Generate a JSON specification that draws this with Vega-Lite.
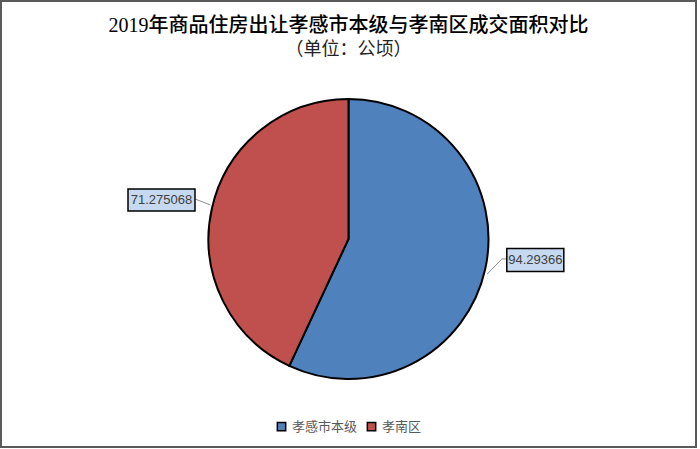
{
  "$schema": "https://vega.github.io/schema/vega-lite/v6.json",
  "autosize": "none",
  "width": 695,
  "height": 446,
  "padding": {"left": 1, "top": 1, "right": 4, "bottom": 2},
  "background": "white",
  "title": {
    "text": "2019年商品住房出让孝感市本级与孝南区成交面积对比",
    "subtitle": "（单位：公顷）",
    "anchor": "middle",
    "offset": -58,
    "font": "Liberation Serif, Noto Sans CJK SC",
    "fontSize": 20,
    "fontWeight": 500,
    "color": "#000000",
    "subtitleFont": "Liberation Serif, Noto Sans CJK SC",
    "subtitleFontSize": 18,
    "subtitleColor": "#222222",
    "subtitlePadding": 5
  },
  "data": {
    "values": [
      {"区域": "孝感市本级", "面积": 94.29366},
      {"区域": "孝南区", "面积": 71.275068}
    ]
  },
  "layer": [
    {
      "mark": {"type": "arc", "radius": 140, "stroke": "#000000", "strokeWidth": 2, "yOffset": 15},
      "encoding": {
        "theta": {"field": "面积", "type": "quantitative", "stack": true},
        "color": {
          "field": "区域",
          "type": "nominal",
          "scale": {"domain": ["孝感市本级", "孝南区"], "range": ["#4F81BD", "#C0504D"]},
          "legend": {"title": null}
        },
        "order": {"field": "面积", "type": "quantitative", "sort": "descending"}
      }
    },
    {
      "mark": {"type": "point", "filled": false, "stroke": "#8c8c8c", "strokeWidth": 1, "size": 4, "opacity": 1},
      "encoding": {
        "x": {"field": "面积", "type": "quantitative", "scale": {"domain": [61.3915, 104.1897], "zero": false, "nice": false}, "axis": null},
        "y": {"field": "面积", "type": "quantitative", "scale": {"domain": [-5.069, 166.035], "zero": false, "nice": false, "reverse": true}, "axis": null},
        "shape": {
          "field": "区域",
          "type": "nominal",
          "scale": {"domain": ["孝感市本级", "孝南区"], "range": ["M-28.5,-1H-33.5L-48,14", "M33.5,-1L49,5"]},
          "legend": null
        }
      }
    },
    {
      "mark": {"type": "point", "filled": true, "fill": "#C6D9F0", "stroke": "#000000", "strokeWidth": 1.5, "size": 4, "opacity": 1},
      "encoding": {
        "x": {"field": "面积", "type": "quantitative"},
        "y": {"field": "面积", "type": "quantitative"},
        "shape": {
          "field": "区域",
          "type": "nominal",
          "scale": {"domain": ["孝感市本级", "孝南区"], "range": ["M-28.5,-11.5H28.5V11.5H-28.5Z", "M-33.5,-11H33.5V11H-33.5Z"]},
          "legend": null
        }
      }
    },
    {
      "mark": {"type": "text", "font": "Liberation Sans", "fontSize": 13, "color": "#404040", "align": "center", "baseline": "middle"},
      "encoding": {
        "x": {"field": "面积", "type": "quantitative"},
        "y": {"field": "面积", "type": "quantitative"},
        "text": {"field": "面积", "type": "quantitative"}
      }
    }
  ],
  "resolve": {"scale": {"shape": "independent"}},
  "config": {
    "view": {"stroke": "#5a5a5a", "strokeWidth": 2},
    "legend": {
      "orient": "bottom",
      "direction": "horizontal",
      "offset": -27,
      "layout": {"bottom": {"anchor": "middle"}},
      "labelFont": "Noto Sans CJK SC",
      "labelFontSize": 13,
      "labelColor": "#595959",
      "labelOffset": 4,
      "columnPadding": 6,
      "symbolType": "square",
      "symbolSize": 70,
      "symbolStrokeColor": "#000000",
      "symbolStrokeWidth": 1.5
    }
  }
}
